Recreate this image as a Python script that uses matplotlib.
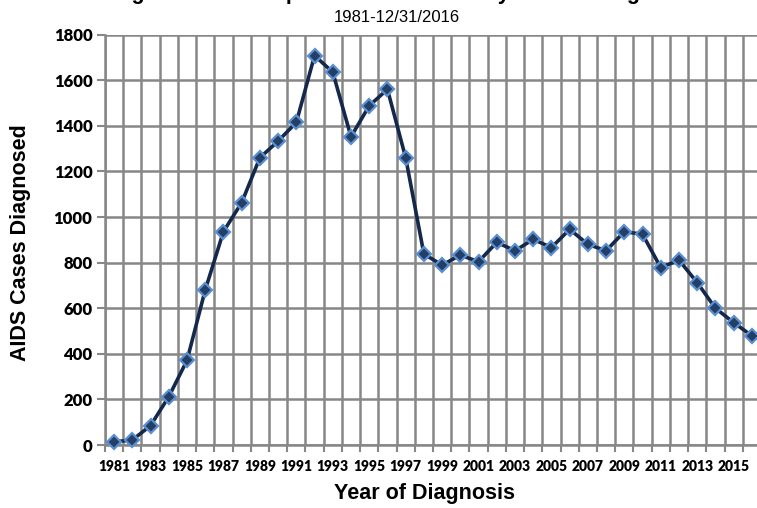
import matplotlib
matplotlib.use("Agg")
import matplotlib.pyplot as plt
import numpy as np

years = list(range(1981, 2017))
cases = [14, 22, 85, 212, 371, 680, 936, 1063, 1260, 1333, 1415, 1708,
         1635, 1352, 1488, 1560, 1260, 838, 789, 833, 804, 889, 852, 902,
         866, 946, 880, 852, 936, 924, 778, 811, 712, 600, 537, 479]
ytick_vals = list(range(0, 1801, 200))
title = "Diagnosed and Reported AIDS Cases by Year of Diagnosis"
subtitle = "1981-12/31/2016"
xlabel = "Year of Diagnosis"
ylabel = "AIDS Cases Diagnosed"

W, H = 757, 508
fig = plt.figure(figsize=(W / 100, H / 100), dpi=100)
left, right, top, bottom = 105, 761, 34.6, 445
ax = fig.add_axes([left / W, 1 - bottom / H, (right - left) / W, (bottom - top) / H])

x = np.arange(len(years))
grid_col = "#878787"

ax.plot(x, cases, color="#13284a", lw=2.6, zorder=3,
        marker="D", ms=6.8, mfc="#243f66", mec="#5b8fd0", mew=1.6, clip_on=False)

ax.set_xlim(-0.5, len(years) - 0.5)
ax.set_ylim(0, 1800)

# y axis
ax.set_yticks(ytick_vals)
ax.set_yticklabels([str(v) for v in ytick_vals], fontsize=12,
                   fontweight="heavy", family="Lato")
ax.tick_params(axis="y", which="major", length=6, width=1.5, color=grid_col, pad=3)

# x axis: labels on odd years, tick marks at category boundaries
ax.set_xticks(x[::2])
ax.set_xticklabels([str(y) for y in years[::2]], fontsize=10,
                   fontweight="heavy", family="Lato")
ax.set_xticks(np.arange(-0.5, len(years), 1.0), minor=True)
ax.tick_params(axis="x", which="major", length=0, pad=11)
ax.tick_params(axis="x", which="minor", length=5, width=1.5, color=grid_col)

ax.grid(which="minor", axis="x", color=grid_col, lw=1.8, zorder=0)
ax.grid(which="major", axis="y", color=grid_col, lw=1.8, zorder=0)
ax.set_axisbelow(True)

for s in ["top", "right"]:
    ax.spines[s].set_visible(False)
for s in ["left", "bottom"]:
    ax.spines[s].set_color(grid_col)
    ax.spines[s].set_linewidth(1.8)

ax.set_xlabel(xlabel, fontsize=15.5, fontweight="bold", family="Liberation Sans")
ax.xaxis.set_label_coords((425 - left) / (right - left), -(483 - bottom) / (bottom - top))
ax.set_ylabel(ylabel, fontsize=15.5, fontweight="bold", family="Liberation Sans")
ax.yaxis.set_label_coords(-(105 - 31) / (right - left), (bottom - 243) / (bottom - top))

fig.text(397 / W, 1 - 18 / H, subtitle, fontsize=12, family="Liberation Sans",
         ha="center", va="center")
fig.text(397 / W, 1 + 1.5 / H, title, fontsize=15.5, fontweight="bold",
         family="Liberation Sans", ha="center", va="baseline")

fig.savefig("out.png", dpi=100)
